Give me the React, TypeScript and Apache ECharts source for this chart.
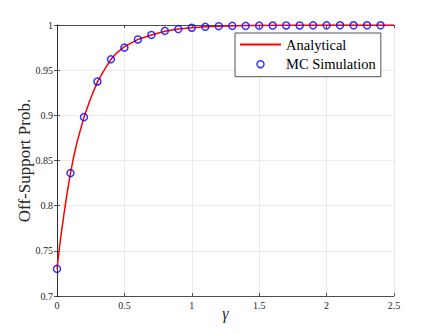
import React, { useEffect, useRef } from "react";
import * as echarts from "echarts";

// Analytical curve
const analyticalX = [0, 0.025, 0.05, 0.075, 0.1, 0.125, 0.15, 0.2, 0.25, 0.3, 0.35, 0.4, 0.45, 0.5, 0.55, 0.6, 0.7, 0.8, 0.9, 1.0, 1.1, 1.2, 1.4, 1.6, 2.0, 2.5];
const analyticalY = [0.730, 0.762, 0.789, 0.814, 0.836, 0.855, 0.871, 0.898, 0.919, 0.937, 0.950, 0.962, 0.970, 0.976, 0.980, 0.984, 0.989, 0.993, 0.9955, 0.997, 0.998, 0.9987, 0.9994, 0.9997, 1.0, 1.0];

// MC simulation points
const mcX = [0, 0.1, 0.2, 0.3, 0.4, 0.5, 0.6, 0.7, 0.8, 0.9, 1.0, 1.1, 1.2, 1.3, 1.4, 1.5, 1.6, 1.7, 1.8, 1.9, 2.0, 2.1, 2.2, 2.3, 2.4];
const mcY = [0.730, 0.836, 0.898, 0.9375, 0.962, 0.975, 0.984, 0.989, 0.9935, 0.9955, 0.997, 0.998, 0.9987, 0.999, 0.999, 0.9993, 0.9994, 0.9995, 0.9995, 0.9996, 0.9996, 0.9997, 0.9997, 0.9997, 0.9997];

const xTicks = [0, 0.5, 1, 1.5, 2, 2.5];
const yTicks = [0.7, 0.75, 0.8, 0.85, 0.9, 0.95, 1];

const SERIF = "Liberation Serif";
const AXIS = "#262626";
const GRID = "#e6e6e6";

export default function App() {
  const ref = useRef<HTMLDivElement>(null);
  useEffect(() => {
    if (!ref.current) return;
    const chart = echarts.init(ref.current, null, { renderer: "svg" });
    const xLabel = (v: number) => {
      const r = Math.round(v * 10) / 10;
      return xTicks.includes(r) ? String(r) : "";
    };
    const yLabel = (v: number) => {
      const r = Math.round(v * 100) / 100;
      return yTicks.includes(r) ? String(r) : "";
    };
    const tickCommon = { show: true, inside: true, length: 3, lineStyle: { color: AXIS, width: 0.8 } };
    chart.setOption({
      animation: false,
      backgroundColor: "#ffffff",
      grid: { left: 57, right: 42, top: 25, bottom: 37, containLabel: false },
      legend: {
        orient: "vertical",
        left: 235,
        top: 33,
        padding: [4, 5, 5, 5],
        itemGap: 4.7,
        itemWidth: 41,
        itemHeight: 7,
        backgroundColor: "#ffffff",
        borderColor: AXIS,
        borderWidth: 0.8,
        borderRadius: 0,
        textStyle: { fontFamily: SERIF, fontSize: 14.5, color: "#000", lineHeight: 12 },
        data: [
          { name: "Analytical", icon: "path://M0,0 L41,0 L41,2 L0,2 Z", itemStyle: { color: "#ff0000" } },
          { name: "MC Simulation", icon: "circle", itemStyle: { color: "rgba(0,0,0,0)", borderColor: "#0000ff", borderWidth: 1.5 } },
        ],
      },
      xAxis: [
        {
          type: "value",
          min: 0,
          max: 2.5,
          interval: 0.5,
          name: "γ",
          nameLocation: "middle",
          nameGap: 9,
          nameMoveOverlap: false,
          nameTextStyle: { fontFamily: SERIF, fontSize: 16, color: AXIS, fontStyle: "italic" },
          axisLine: { show: true, lineStyle: { color: AXIS, width: 0.8 } },
          axisTick: tickCommon,
          axisLabel: { fontFamily: SERIF, fontSize: 10, color: AXIS, margin: 4, formatter: xLabel },
          splitLine: { show: true, lineStyle: { color: GRID, width: 0.8 } },
        },
        {
          type: "value",
          position: "top",
          min: 0,
          max: 2.5,
          interval: 0.5,
          axisLine: { show: true, lineStyle: { color: AXIS, width: 0.8 } },
          axisTick: tickCommon,
          axisLabel: { show: false },
          splitLine: { show: false },
        },
      ],
      yAxis: [
        {
          type: "value",
          min: 0.7,
          max: 1,
          interval: 0.05,
          name: "Off-Support Prob.",
          nameLocation: "middle",
          nameGap: 24,
          nameMoveOverlap: false,
          nameRotate: 90,
          nameTextStyle: { fontFamily: SERIF, fontSize: 17, color: AXIS },
          axisLine: { show: true, lineStyle: { color: AXIS, width: 0.8 } },
          axisTick: tickCommon,
          axisLabel: { fontFamily: SERIF, fontSize: 10, color: AXIS, margin: 4, formatter: yLabel },
          splitLine: { show: true, lineStyle: { color: GRID, width: 0.8 } },
        },
        {
          type: "value",
          position: "right",
          min: 0.7,
          max: 1,
          interval: 0.05,
          axisLine: { show: true, lineStyle: { color: AXIS, width: 0.8 } },
          axisTick: tickCommon,
          axisLabel: { show: false },
          splitLine: { show: false },
        },
      ],
      series: [
        {
          name: "Analytical",
          type: "line",
          data: analyticalX.map((x, i) => [x, analyticalY[i]]),
          symbol: "none",
          smooth: false,
          lineStyle: { color: "#ff0000", width: 1.5 },
          itemStyle: { color: "#ff0000" },
          z: 2,
        },
        {
          name: "MC Simulation",
          type: "scatter",
          data: mcX.map((x, i) => [x, mcY[i]]),
          symbol: "circle",
          symbolSize: 7,
          itemStyle: { color: "rgba(0,0,0,0)", borderColor: "#0000ff", borderWidth: 1.5 },
          z: 3,
        },
      ],
    });
    return () => chart.dispose();
  }, []);
  return (
    <div
      ref={ref}
      style={{ position: "absolute", left: 0, top: 0, width: 436, height: 333, background: "#fff" }}
    />
  );
}
